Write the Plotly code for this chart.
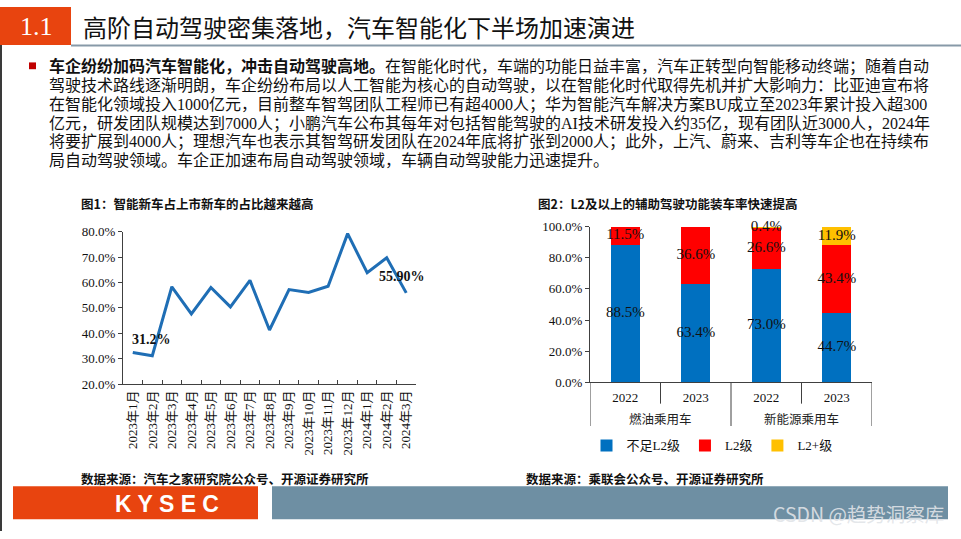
import plotly.graph_objects as go

W, H = 961, 539

# ---------------- data ----------------
months = ["2023年1月", "2023年2月", "2023年3月", "2023年4月", "2023年5月", "2023年6月",
          "2023年7月", "2023年8月", "2023年9月", "2023年10月", "2023年11月", "2023年12月",
          "2024年1月", "2024年2月", "2024年3月"]
smart_share = [32.5, 31.2, 58.3, 47.6, 58.0, 50.4, 60.8, 41.3, 57.2, 56.1, 58.5, 79.2, 63.8, 69.7, 55.9]
share_labels = {1: "31.2%", 14: "55.90%"}

car_groups = ["燃油乘用车", "燃油乘用车", "新能源乘用车", "新能源乘用车"]
car_years = ["2022", "2023", "2022", "2023"]
below_l2 = [88.5, 63.4, 73.0, 44.7]
l2 = [11.5, 36.6, 26.6, 43.4]
l2_plus = [0.0, 0.0, 0.4, 11.9]
series_names = ["不足L2级", "L2级", "L2+级"]
series_colors = ["#0070C0", "#FF0000", "#FFC000"]

title_text = "高阶自动驾驶密集落地，汽车智能化下半场加速演进"
para_lines = [
    "<b>车企纷纷加码汽车智能化，冲击自动驾驶高地。</b>在智能化时代，车端的功能日益丰富，汽车正转型向智能移动终端；随着自动",
    "驾驶技术路线逐渐明朗，车企纷纷布局以人工智能为核心的自动驾驶，以在智能化时代取得先机并扩大影响力：比亚迪宣布将",
    "在智能化领域投入1000亿元，目前整车智驾团队工程师已有超4000人；华为智能汽车解决方案BU成立至2023年累计投入超300",
    "亿元，研发团队规模达到7000人；小鹏汽车公布其每年对包括智能驾驶的AI技术研发投入约35亿，现有团队近3000人，2024年",
    "将要扩展到4000人；理想汽车也表示其智驾研发团队在2024年底将扩张到2000人；此外，上汽、蔚来、吉利等车企也在持续布",
    "局自动驾驶领域。车企正加速布局自动驾驶领域，车辆自动驾驶能力迅速提升。",
]

# ---------------- helpers ----------------
def px(x):
    return x / W

def py(y):
    return 1 - y / H

SERIF = "Liberation Serif, Noto Sans CJK SC"
CJK = "Noto Sans CJK SC"
ORANGE = "#E8440F"
SLATE = "#6E8FA3"
AXIS = "#404040"
INK = "#111111"

# unique category keys for the grouped bar axis (group + year)
car_keys = [g + y for g, y in zip(car_groups, car_years)]

fig = go.Figure()

# ---------------- chart 1: line ----------------
fig.add_trace(go.Scatter(
    x=months, y=smart_share, mode="lines",
    line=dict(color="#1F6EB5", width=3),
    xaxis="x", yaxis="y", showlegend=False, hoverinfo="skip",
))

# ---------------- chart 2: stacked bars ----------------
for name, vals, col in zip(series_names, [below_l2, l2, l2_plus], series_colors):
    fig.add_trace(go.Bar(
        x=car_keys, y=vals, name=name,
        marker=dict(color=col, line=dict(width=0)),
        xaxis="x2", yaxis="y2",
    ))

# segment labels at stack midpoints
lab_x, lab_yv, lab_t = [], [], []
for i in range(len(car_keys)):
    base = 0.0
    for vals in (below_l2, l2, l2_plus):
        v = vals[i]
        if v > 0:
            lab_x.append(car_keys[i])
            lab_yv.append(base + v / 2)
            lab_t.append(f"{v:.1f}%")
        base += v
fig.add_trace(go.Scatter(
    x=lab_x, y=lab_yv, mode="text", text=lab_t,
    textfont=dict(family=SERIF, size=15, color=INK),
    xaxis="x2", yaxis="y2", showlegend=False, hoverinfo="skip", cliponaxis=False,
))

# ---------------- annotations ----------------
ann = []

def note(x, y, text, size, family=CJK, color=INK, xanchor="left"):
    ann.append(dict(x=px(x), y=py(y), xref="paper", yref="paper", text=text,
                    xanchor=xanchor, yanchor="middle", showarrow=False,
                    font=dict(family=family, size=size, color=color)))

for idx, txt in share_labels.items():
    ann.append(dict(x=months[idx], y=smart_share[idx], xref="x", yref="y",
                    text=f"<b>{txt}</b>", showarrow=False,
                    xanchor="center", yanchor="middle",
                    xshift=-1 if idx < 10 else -4, yshift=16,
                    font=dict(family=SERIF, size=14, color=INK)))

# group labels for the bar chart (centred under each group's categories)
shapes = []
uniq_groups = []
for g in car_groups:
    if g not in uniq_groups:
        uniq_groups.append(g)
for g in uniq_groups:
    idxs = [i for i, gg in enumerate(car_groups) if gg == g]
    ann.append(dict(x=sum(idxs) / len(idxs), y=py(423), xref="x2", yref="paper",
                    text=g, showarrow=False, xanchor="center", yanchor="middle",
                    font=dict(family=CJK, size=12.5, color="#222222")))

# dividers: long lines between groups (and at ends), short lines between years
n = len(car_keys)
for b in range(n + 1):
    outer = b == 0 or b == n or car_groups[b - 1] != car_groups[b]
    shapes.append(dict(type="line", xref="x2", yref="paper", x0=b - 0.5, x1=b - 0.5,
                       y0=py(386), y1=py(431 if outer else 408),
                       line=dict(color=AXIS, width=1)))

# header
note(36, 20, "1.1", 26, family="Liberation Serif", color="white", xanchor="center")
note(81, 20, title_text, 24)

# paragraph
line_y = [61.5, 81, 100.5, 120, 139, 158]
for t, yy in zip(para_lines, line_y):
    note(47, yy, t, 16, family=SERIF)

# chart titles
note(79, 202, "<b>图1：智能新车占上市新车的占比越来越高</b>", 12.5)
note(536, 202, "<b>图2：L2及以上的辅助驾驶功能装车率快速提高</b>", 12.5)

# sources
note(79, 485, "<b>数据来源：汽车之家研究院公众号、开源证券研究所</b>", 12.5)
note(524, 485, "<b>数据来源：乘联会公众号、开源证券研究所</b>", 12.5)

# footer
note(167, 511, "<b>K Y S E C</b>", 23, family="Liberation Sans", color="white", xanchor="center")
note(946, 521, "CSDN @趋势洞察库", 19.5, color="rgba(225,228,232,0.9)", xanchor="right")

# ---------------- decorative shapes ----------------
shapes += [
    dict(type="rect", xref="paper", yref="paper", x0=px(0), x1=px(71), y0=py(39), y1=py(0),
         fillcolor=ORANGE, line=dict(width=0), layer="below"),
    dict(type="line", xref="paper", yref="paper", x0=px(71), x1=px(961), y0=py(39.5), y1=py(39.5),
         line=dict(color="#8799A8", width=2)),
    dict(type="line", xref="paper", yref="paper", x0=px(1), x1=px(1), y0=py(39), y1=py(539),
         line=dict(color="#3A3A3A", width=2)),
    dict(type="rect", xref="paper", yref="paper", x0=px(29), x1=px(36), y0=py(64), y1=py(57),
         fillcolor="#C00000", line=dict(width=0)),
    dict(type="rect", xref="paper", yref="paper", x0=px(13), x1=px(258), y0=py(527), y1=py(493),
         fillcolor=ORANGE, line=dict(width=0), layer="below"),
    dict(type="rect", xref="paper", yref="paper", x0=px(272), x1=px(948), y0=py(527), y1=py(493),
         fillcolor=SLATE, line=dict(width=0), layer="below"),
]

fig.update_layout(
    width=W, height=H, margin=dict(l=0, r=0, t=0, b=0),
    paper_bgcolor="white", plot_bgcolor="white",
    barmode="stack", bargap=0.59,
    font=dict(family=SERIF, size=13, color=INK),
    annotations=ann, shapes=shapes,
    legend=dict(orientation="h", x=px(712), xanchor="center", y=py(451), yanchor="middle",
                font=dict(family=SERIF, size=13, color=INK), itemwidth=30,
                bgcolor="rgba(0,0,0,0)", traceorder="normal"),
    xaxis=dict(domain=[px(123), px(416)], type="category", range=[-0.5, 14.5],
               showline=True, linecolor=AXIS, linewidth=1, showgrid=False, zeroline=False,
               ticks="inside", tickson="boundaries", ticklen=4, tickcolor=AXIS,
               tickangle=-90, tickfont=dict(family=SERIF, size=13, color=INK),
               anchor="y", fixedrange=True),
    yaxis=dict(domain=[py(388), py(231)], range=[20, 80], dtick=10, tick0=20,
               ticksuffix="%", tickformat=".1f", showline=True, linecolor=AXIS, linewidth=1,
               showgrid=False, zeroline=False, ticks="outside", ticklen=4, tickcolor=AXIS,
               tickfont=dict(family=SERIF, size=13, color=INK), anchor="x", fixedrange=True),
    xaxis2=dict(domain=[px(590), px(872)], type="category", range=[-0.5, n - 0.5],
                categoryorder="array", categoryarray=car_keys,
                tickmode="array", tickvals=car_keys, ticktext=car_years,
                showline=True, linecolor=AXIS, linewidth=1, showgrid=False, zeroline=False,
                ticks="", ticklabelstandoff=3,
                tickfont=dict(family=SERIF, size=13, color=INK),
                anchor="y2", fixedrange=True),
    yaxis2=dict(domain=[py(386), py(226)], range=[0, 100], dtick=20,
                ticksuffix="%", tickformat=".1f", showline=True, linecolor=AXIS, linewidth=1,
                showgrid=False, zeroline=False, ticks="outside", ticklen=4, tickcolor=AXIS,
                tickfont=dict(family=SERIF, size=13, color=INK), anchor="x2", fixedrange=True),
)

fig.write_html("out.html", config={"displayModeBar": False},
               post_script="document.body.style.margin='0';document.body.style.overflow='hidden';")
